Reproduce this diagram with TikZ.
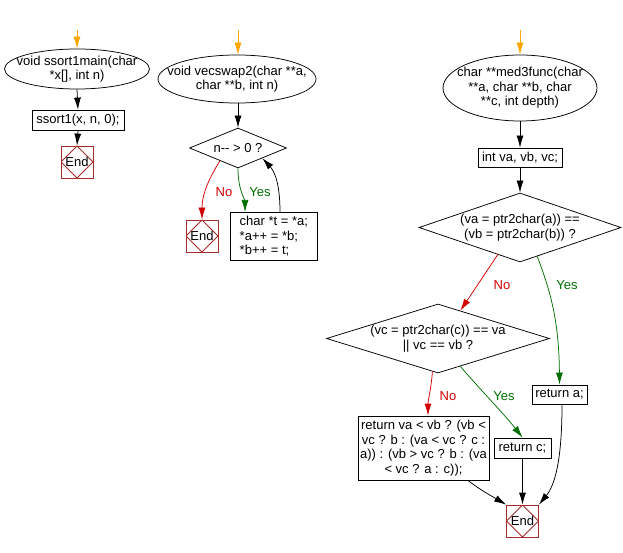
\documentclass[tikz,border=0pt]{standalone}
\usepackage{fontspec}
\setmainfont{Liberation Sans}
\usetikzlibrary{shapes.geometric,arrows.meta,calc}
\definecolor{endred}{RGB}{165,45,45}
\definecolor{nored}{RGB}{210,0,0}
\definecolor{yesgreen}{RGB}{0,110,0}
\definecolor{startorange}{RGB}{255,165,0}
\begin{document}
\begin{tikzpicture}[x=1pt,y=-1pt,line width=0.75pt,
  txt/.style={font=\fontsize{13}{14.5}\selectfont},
  startell/.style={draw,ellipse,inner sep=0pt},
  procbox/.style={draw,rectangle,inner sep=0pt,txt},
  decdia/.style={draw,diamond,inner sep=0pt},
  endsq/.style={draw=endred,rectangle,minimum width=32,minimum height=32,inner sep=0pt,txt,
    path picture={\draw[endred] (path picture bounding box.north) -- (path picture bounding box.east) -- (path picture bounding box.south) -- (path picture bounding box.west) -- cycle;}},
  arr/.style={-{Latex[length=12pt,width=7pt]}},
  oarr/.style={arr,draw=startorange,fill=startorange},
  noarr/.style={arr,draw=nored},
  yesarr/.style={arr,draw=yesgreen},
  nolab/.style={txt,text=nored},
  yeslab/.style={txt,text=yesgreen}]
\path[use as bounding box] (0,0) rectangle (623,553);
% ---------- panel 1
\node[startell,minimum width=145,minimum height=40] (s1) at (77,69) {};
\node[txt,align=center] (s1t) at (s1.center) {void ssort1main(char\\*x[], int n)};
\node[procbox,minimum width=92,minimum height=20] (b1) at (78,120) {ssort1(x, n, 0);};
\node[endsq] (e1) at (77,162) {End};
\coordinate (o1) at (77,30);
\draw[oarr] (o1) -- (s1.north);
\draw[arr] (s1.south) -- (b1.north);
\draw[arr] (b1.south) -- (e1.north);
% ---------- panel 2
\node[startell,minimum width=158,minimum height=48] (s2) at (237,79) {};
\node[txt,align=center] (s2t) at (s2.center) {void vecswap2(char **a,\\char **b, int n)};
\node[decdia,minimum width=97,minimum height=40] (d2) at (238,148) {};
\node[txt] (d2t) at (d2.center) {n-{}- > 0 ?};
\node[endsq] (e2) at (202,236) {End};
\node[procbox,minimum width=87,minimum height=48,align=left,anchor=north west,inner xsep=4pt] (b2) at (230,212) {char *t = *a;\\*a++ = *b;\\*b++ = t;};
\coordinate (o2) at (238,30);
\draw[oarr] (o2) -- (s2.north -| o2);
\draw[arr] (s2.south -| d2.north) -- (d2.north);
\draw[noarr] ($(d2.west)!0.63!(d2.south)$) .. controls (208,180) and (202,195) .. (e2.north);
\draw[yesarr] (d2.south) .. controls (238,190) and (245,200) .. (b2.north -| 245,0);
\draw[arr] (b2.north -| 280,0) .. controls (280,185) and (275,172) .. ($(d2.south)!0.5!(d2.east)$);
\node[nolab] (n2) at (224,192) {No};
\node[yeslab] (y2) at (260,192) {Yes};
% ---------- panel 3
\node[startell,minimum width=154,minimum height=66] (s3) at (520,88) {};
\node[txt,align=center] (s3t) at (s3.center) {char **med3func(char\\**a, char **b, char\\**c, int depth)};
\node[procbox,minimum width=84,minimum height=19] (b3) at (520,157.5) {int va, vb, vc;};
\node[decdia,minimum width=202,minimum height=69] (d3) at (520,227.5) {};
\node[txt,align=center] (d3t) at (d3.center) {(va = ptr2char(a)) ==\\(vb = ptr2char(b)) ?};
\node[decdia,minimum width=223,minimum height=69] (d4) at (438,338.5) {};
\node[txt,align=center] (d4t) at (d4.center) {(vc = ptr2char(c)) == va\\|| vc == vb ?};
\node[procbox,minimum width=55,minimum height=19] (ra) at (559.5,394.5) {return a;};
\node[procbox,minimum width=131,minimum height=64,align=center] (rl) at (423.5,448) {return va < vb ? (vb <\\vc ? b : (va < vc ? c :\\a)) : (vb > vc ? b : (va\\< vc ? a : c));};
\node[procbox,minimum width=57,minimum height=20] (rc) at (522.5,448) {return c;};
\node[endsq] (e3) at (522.5,521) {End};
\coordinate (o3) at (520,30);
\draw[oarr] (o3) -- (s3.north);
\draw[arr] (s3.south) -- (b3.north);
\draw[arr] (b3.south) -- (d3.north);
\draw[noarr] ($(d3.west)!0.78!(d3.south)$) -- ($(d4.north)!0.2!(d4.east)$);
\node[nolab] (n3) at (502,285) {No};
\draw[yesarr] ($(d3.south)!0.17!(d3.east)$) .. controls (550,290) and (559,320) .. (ra.north);
\node[yeslab] (y3) at (567,285) {Yes};
\draw[noarr] ($(d4.west)!0.95!(d4.south)$) .. controls (431,390) and (428,400) .. (rl.north -| 428,0);
\node[nolab] (n4) at (448,396) {No};
\draw[yesarr] ($(d4.south)!0.2!(d4.east)$) .. controls (485,395) and (505,415) .. (rc.north);
\node[yeslab] (y4) at (504,396) {Yes};
\draw[arr] (rl.south -| 468,0) .. controls (480,490) and (495,498) .. (e3.north west);
\draw[arr] (rc.south) -- (e3.north);
\draw[arr] (ra.south -| 562,0) .. controls (562,460) and (555,485) .. (e3.north east);
\end{tikzpicture}
\end{document}
